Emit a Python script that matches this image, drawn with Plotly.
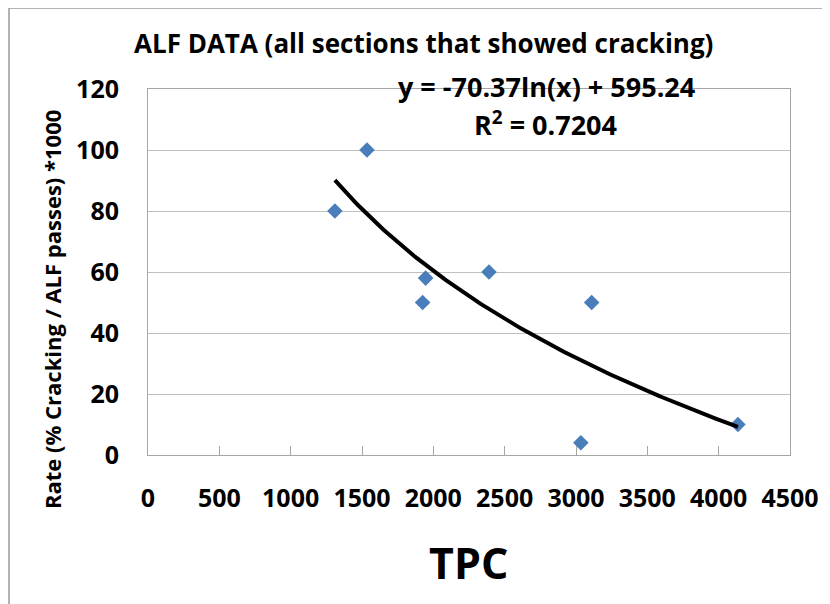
import numpy as np
import plotly.graph_objects as go

# ---- data ----
tpc = [1310, 1535, 1925, 1946, 2390, 3034, 3110, 4135]
rate = [80, 100, 50, 58, 60, 4, 50, 10]

# displayed logarithmic trendline: y = a*ln(x) + b
trend_a = -70.37
trend_b = 595.24
r_squared = 0.7204

x_ticks = [0, 500, 1000, 1500, 2000, 2500, 3000, 3500, 4000, 4500]
y_ticks = [0, 20, 40, 60, 80, 100, 120]

title_text = "ALF DATA (all sections that showed cracking)"
x_title = "TPC"
y_title = "Rate (% Cracking / ALF passes) *1000"

FONT = "Open Sans"

fx = np.linspace(min(tpc), max(tpc), 200)
fy = trend_a * np.log(fx) + trend_b

fig = go.Figure()
fig.add_trace(go.Scatter(
    x=tpc, y=rate, mode="markers",
    marker=dict(symbol="diamond", size=12, color="#4A7EBB", line=dict(width=0)),
    showlegend=False, hoverinfo="skip"))
fig.add_trace(go.Scatter(
    x=fx, y=fy, mode="lines",
    line=dict(color="black", width=4),
    showlegend=False, hoverinfo="skip"))

# the page body adds an 8px offset; lay out in window pixels
OFF = 8
W, H = 830 - OFF, 604 - OFF
L, T = 148 - OFF, 89 - OFF
R = W - (790 - OFF)
B = H - (455 - OFF)
pw, ph = W - L - R, H - T - B


def px(x):
    return (x - OFF - L) / pw


def py(y):
    return (H - B - (y - OFF)) / ph


fig.update_layout(
    width=W, height=H,
    margin=dict(l=L, r=R, t=T, b=B),
    paper_bgcolor="white", plot_bgcolor="white",
    font=dict(family=FONT, color="black"),
    xaxis=dict(
        range=[0, 4500], tickvals=x_ticks, ticktext=[str(v) for v in x_ticks],
        showgrid=False, zeroline=False,
        showline=True, linecolor="#A6A6A6", linewidth=1, mirror=True,
        ticks="inside", ticklen=9, tickcolor="#A6A6A6", tickwidth=1,
        tickfont=dict(family=FONT, size=25, weight="bold", color="black"),
        ticklabelstandoff=21,
    ),
    yaxis=dict(
        range=[0, 120], tickvals=y_ticks, ticktext=[str(v) for v in y_ticks],
        showgrid=True, gridcolor="#BFBFBF", gridwidth=1, zeroline=False,
        showline=True, linecolor="#A6A6A6", linewidth=1, mirror=True,
        ticks="",
        tickfont=dict(family=FONT, size=25, weight="bold", color="black"),
        ticklabelstandoff=23,
    ),
    shapes=[
        dict(type="line", xref="paper", yref="paper",
             x0=px(9), x1=px(840), y0=py(8), y1=py(8),
             line=dict(color="#9A9A9A", width=1.5)),
        dict(type="line", xref="paper", yref="paper",
             x0=px(9), x1=px(9), y0=py(8), y1=py(620),
             line=dict(color="#9A9A9A", width=1.5)),
    ],
    annotations=[
        dict(text=title_text, xref="paper", yref="paper",
             x=px(423), y=py(43), showarrow=False,
             xanchor="center", yanchor="middle",
             font=dict(family=FONT, size=26, weight="bold")),
        dict(text="y = -70.37ln(x) + 595.24", xref="paper", yref="paper",
             x=px(546), y=py(86), showarrow=False,
             xanchor="center", yanchor="middle",
             font=dict(family=FONT, size=27, weight="bold")),
        dict(text="R<sup>2</sup> = " + f"{r_squared:.4f}", xref="paper", yref="paper",
             x=px(545), y=py(123), showarrow=False,
             xanchor="center", yanchor="middle",
             font=dict(family=FONT, size=27, weight="bold")),
        dict(text=x_title, xref="paper", yref="paper",
             x=px(468), y=py(562), showarrow=False,
             xanchor="center", yanchor="middle",
             font=dict(family=FONT, size=43, weight="bold")),
        dict(text=y_title, xref="paper", yref="paper",
             x=px(52), y=py(310), showarrow=False, textangle=-90,
             xanchor="center", yanchor="middle",
             font=dict(family=FONT, size=22, weight="bold")),
    ],
)

fig.write_html("out.html")
